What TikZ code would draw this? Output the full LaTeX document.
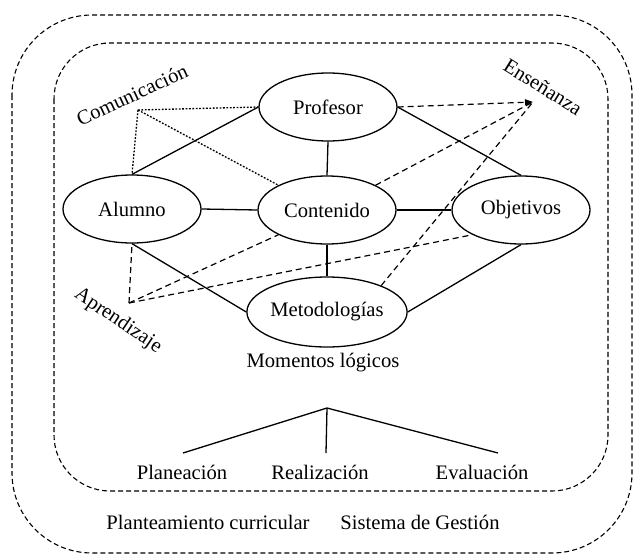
\documentclass[tikz,border=0pt]{standalone}
\usepackage{fontspec}
\setmainfont{Liberation Serif}
\usetikzlibrary{shapes.geometric,arrows.meta}

\begin{document}
\begin{tikzpicture}[x=1pt,y=-1pt,
  concept/.style={ellipse,draw,line width=1.3pt,inner sep=0pt,
    minimum width=138pt,minimum height=68pt,font=\fontsize{20.6}{24}\selectfont},
  txt/.style={font=\fontsize{20.6}{24}\selectfont,inner sep=0pt},
  link/.style={line width=1.3pt},
  teach/.style={line width=1.2pt,dash pattern=on 6pt off 4pt},
  talk/.style={line width=1.3pt,dash pattern=on 1.8pt off 1.6pt},
  frame/.style={line width=1.1pt,dash pattern=on 5pt off 3pt}]

\useasboundingbox (0,0) rectangle (634,554);

% frames
\draw[frame,rounded corners=80pt] (12,15) rectangle (632,553);
\draw[frame,rounded corners=56pt] (54,43) rectangle (608,491);

% concepts
\node[concept] (prof) at (328,107) {Profesor};
\node[concept] (alum) at (132,209) {Alumno};
\node[concept] (cont) at (327,210) {Contenido};
\node[concept] (obj)  at (521,210) {Objetivos};
\node[concept,minimum width=158pt,minimum height=70pt] (met) at (327,312) {Metodologías};

% solid relations
\draw[link] (alum.north) -- (prof.west);
\draw[link] (prof.south) -- (cont.north);
\draw[link] (prof.east) -- (obj.north);
\draw[link] (alum.east) -- (cont.west);
\draw[link] (cont.east) -- (obj.west);
\draw[link] (cont.south) -- (met.north);
\draw[link] (alum.south) -- (met.west);
\draw[link] (obj.south) -- (met.east);

% Comunicación
\coordinate (com) at (138,110);
\node[txt,rotate=25] (comlbl) at (132,95) {Comunicación};
\draw[talk] (com) -- (alum.north);
\draw[talk] (com) -- (prof.west);
\draw[talk] (com) -- (cont.153);

% Enseñanza
\coordinate (ens) at (533,102);
\node[txt,rotate=-32] (enslbl) at (543,87) {Enseñanza};
\draw[teach,-{Triangle[length=8pt,width=6pt]}] (prof.east) -- (ens);
\draw[teach] (cont.27) -- (ens);
\draw[teach] (met.26) -- (ens);

% Aprendizaje
\coordinate (apr) at (129,303);
\node[txt,rotate=-34] (aprlbl) at (118,321) {Aprendizaje};
\draw[teach] (apr) -- (alum.south);
\draw[teach] (apr) -- (cont.207);
\draw[teach] (apr) -- (obj.207);

% logical moments
\node[txt] (mom) at (323,363) {Momentos lógicos};
\coordinate (apex) at (327,408);
\coordinate (lt) at (183,453);
\coordinate (mt) at (326,453);
\coordinate (rt) at (498,453);
\draw[link] (lt) -- (apex) -- (rt);
\draw[link] (apex) -- (mt);
\node[txt] (plan) at (182,472) {Planeación};
\node[txt] (real) at (320,472) {Realización};
\node[txt] (eval) at (482,472) {Evaluación};

% outer ring labels
\node[txt] (curr) at (208,522) {Planteamiento curricular};
\node[txt] (gest) at (420,522) {Sistema de Gestión};
\end{tikzpicture}
\end{document}
